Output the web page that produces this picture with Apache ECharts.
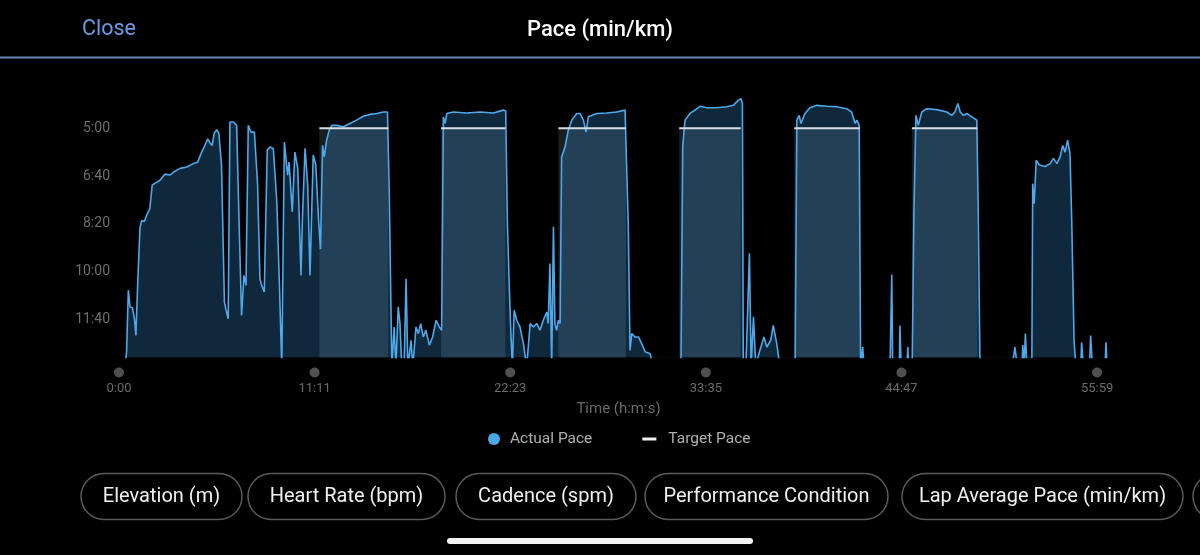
<!DOCTYPE html>
<html><head><meta charset="utf-8">
<script src="https://cdn.jsdelivr.net/npm/echarts@6/dist/echarts.min.js"></script>
<style>html,body{margin:0;padding:0;background:#000}#c{width:1200px;height:555px}</style>
</head><body><div id="c"></div>
<script>
// elapsed time (s)
const times = [21,26,32,38,46,53,58,64,72,78,87,95,106,114,124,141,158,175,192,210,233,255,270,284,295,305,313,320,327,336,343,352,362,368,375,381,393,404,412,421,429,436,444,453,465,476,484,490,499,509,519,530,542,551,559,564,568,574,579,584,595,604,614,625,630,639,648,656,667,676,685,692,699,705,713,722,731,748,770,793,816,839,862,885,908,922,928,937,945,951,959,965,971,979,986,992,1003,1009,1020,1028,1036,1045,1054,1066,1077,1089,1100,1108,1114,1120,1126,1148,1194,1240,1286,1320,1328,1334,1340,1345,1351,1357,1366,1377,1389,1400,1412,1423,1435,1446,1457,1469,1474,1480,1486,1492,1497,1503,1509,1515,1520,1532,1543,1555,1572,1583,1595,1604,1612,1641,1675,1709,1738,1744,1749,1755,1761,1772,1784,1795,1807,1824,1835,1930,1936,1944,1961,1978,1995,2018,2053,2087,2110,2127,2136,2141,2144,2153,2165,2171,2179,2187,2198,2215,2225,2238,2247,2259,2270,2322,2328,2336,2342,2356,2373,2396,2431,2465,2499,2516,2528,2534,2542,2547,2554,2559,2648,2654,2657,2680,2682,2686,2706,2709,2712,2724,2730,2737,2745,2757,2774,2809,2843,2860,2871,2881,2889,2900,2912,2929,2946,2951,2957,3067,3077,3085,3101,3104,3108,3113,3118,3135,3138,3143,3150,3161,3180,3198,3209,3221,3232,3241,3249,3258,3266,3272,3280,3286,3303,3306,3312,3333,3337,3343,3386,3390,3393];
// actual pace (s per km)
const paces = [800,768,639,674,676,698,734,629,509,493,495,482,468,419,415,409,396,398,390,384,381,374,371,350,336,322,331,336,310,303,311,377,664,681,699,287,287,294,488,692,608,629,294,308,308,419,615,629,643,346,339,343,454,629,800,800,329,332,398,371,475,350,384,608,488,342,419,608,356,377,488,553,336,360,325,304,294,294,297,290,283,275,271,269,266,266,430,800,716,800,674,709,800,800,615,800,744,800,716,730,709,737,723,754,737,702,716,723,276,290,269,266,268,266,268,262,264,500,625,716,800,681,702,716,751,800,709,716,709,723,702,685,709,583,800,507,709,723,702,709,360,339,304,283,269,269,283,308,276,269,268,266,262,266,500,765,730,737,737,751,768,772,800,800,339,283,269,262,254,257,257,255,252,241,238,248,800,800,562,800,695,800,771,737,758,744,713,751,800,800,283,273,290,269,257,252,254,255,259,266,290,283,294,800,758,800,800,606,800,800,713,800,800,758,800,800,479,273,294,266,259,261,266,273,266,248,266,273,269,276,283,479,800,800,758,800,800,754,800,730,800,800,416,458,367,377,380,374,363,374,360,336,350,325,353,493,744,800,800,748,800,800,734,800,800,748,800];
// interval (target) laps
const bandStarts = [688,1106,1509,1924,2319,2723];
const bandEnds   = [925,1327,1741,2135,2545,2948];
const targetPace = 300;
const yTicks = [300,400,500,600,700];
const xInterval = 671.8;
const yMin = 200, yMax = 780, xMax = 3400;

function fmt(v){const m=Math.floor(v/60), s=Math.floor(v%60+1e-6);return m+':'+(s<10?'0':'')+s;}
const paceData = times.map((t,i)=>[t,paces[i]]);
const targetData = [];
bandStarts.forEach((s,i)=>{targetData.push([s,targetPace],[bandEnds[i],targetPace],[bandEnds[i]+1,null]);});
const bandData = bandStarts.map((s,i)=>[s,bandEnds[i],targetPace]);

const FONT = 'Roboto, "Noto Sans", sans-serif';
function chip(x,w,label){
  return [
    {type:'rect', shape:{x:x,y:473.5,width:w,height:46,r:23}, style:{fill:'none',stroke:'#5a5a5a',lineWidth:1.5}},
    {type:'text', x:x+w/2, y:497, style:{text:label, fill:'#f0f0f0', font:'20px '+FONT, align:'center', verticalAlign:'middle'}}
  ];
}
const chart = echarts.init(document.getElementById('c'));
chart.setOption({
  backgroundColor:'#000',
  animation:false,
  textStyle:{fontFamily:FONT},
  grid:{left:119, width:990, top:80.5, height:277},
  xAxis:{type:'value', min:0, max:xMax, interval:xInterval,
    axisLine:{show:false}, axisTick:{show:false}, splitLine:{show:false},
    axisLabel:{showMaxLabel:false, margin:10,
      formatter:function(v){const k=v/xInterval; if(Math.abs(k-Math.round(k))>1e-6) return ''; return '{d|}\n{t|'+fmt(v)+'}';},
      rich:{d:{width:10,height:10,borderRadius:5,backgroundColor:'#505050',lineHeight:10},
            t:{fontSize:13,color:'#6b6b6b',lineHeight:22,fontFamily:FONT}}},
    name:'Time (h:m:s)', nameLocation:'middle', nameGap:44,
    nameTextStyle:{color:'#6a6a6a', fontSize:15, padding:[0,0,0,9]}},
  yAxis:{type:'value', inverse:true, min:yMin, max:yMax, interval:100,
    axisLine:{show:false}, axisTick:{show:false}, splitLine:{show:false},
    axisLabel:{margin:9, color:'#6e6e6e', fontSize:14,
      formatter:function(v){return yTicks.indexOf(v)>=0?fmt(v):'';}}},
  legend:{left:483, top:426, itemWidth:14, itemHeight:12, itemGap:50, selectedMode:false,
    textStyle:{color:'#b0b0b0', fontSize:15.5, padding:[0,0,0,4]},
    data:[{name:'Actual Pace', icon:'circle', itemStyle:{color:'#4aa8e8'}},
          {name:'Target Pace', icon:'path://M0,0h14v3h-14z', itemStyle:{color:'#f0f0f0'},
           textStyle:{color:'#b0b0b0', fontSize:15.5, padding:[0,0,0,7]}}]},
  series:[
    {name:'fill', type:'line', data:paceData, symbol:'none', z:1, silent:true, clip:true,
      lineStyle:{width:0, opacity:0}, areaStyle:{color:'#0f283c', opacity:1, origin:'end'}},
    {name:'bands', type:'custom', data:bandData, z:2, silent:true, encode:{x:[0,1], y:2},
      renderItem:function(params, api){
        const p1 = api.coord([api.value(0), api.value(2)]);
        const p2 = api.coord([api.value(1), yMax]);
        return {type:'rect', shape:{x:p1[0], y:p1[1], width:p2[0]-p1[0], height:p2[1]-p1[1]},
                style:{fill:'rgba(150,195,225,0.16)'}};
      }},
    {name:'Actual Pace', type:'line', data:paceData, symbol:'none', z:3, clip:true, silent:true,
      itemStyle:{color:'#4aa8e8'}, lineStyle:{color:'#4ea8ea', width:1.6}},
    {name:'Target Pace', type:'line', data:targetData, symbol:'none', z:4, silent:true, connectNulls:false,
      itemStyle:{color:'#f0f0f0'}, lineStyle:{color:'#d5dde6', width:2}}
  ],
  graphic:[
    {type:'text', x:82, y:30, style:{text:'Close', fill:'#6a9ae6', font:'21.5px '+FONT, verticalAlign:'middle'}},
    {type:'text', x:600, y:30.5, style:{text:'Pace (min/km)', fill:'#ffffff', font:'500 22px '+FONT, align:'center', verticalAlign:'middle'}},
    {type:'rect', shape:{x:0,y:56.5,width:1200,height:2}, style:{fill:'#6a87b8'}},
    ...chip(81,161,'Elevation (m)'),
    ...chip(248,197,'Heart Rate (bpm)'),
    ...chip(456,180,'Cadence (spm)'),
    ...chip(645,243,'Performance Condition'),
    ...chip(902,281,'Lap Average Pace (min/km)'),
    {type:'rect', shape:{x:1193,y:473.5,width:260,height:46,r:23}, style:{fill:'none',stroke:'#5a5a5a',lineWidth:1.5}},
    {type:'rect', shape:{x:447,y:538,width:306,height:6,r:3}, style:{fill:'#f2f2f2'}}
  ]
});
</script></body></html>
